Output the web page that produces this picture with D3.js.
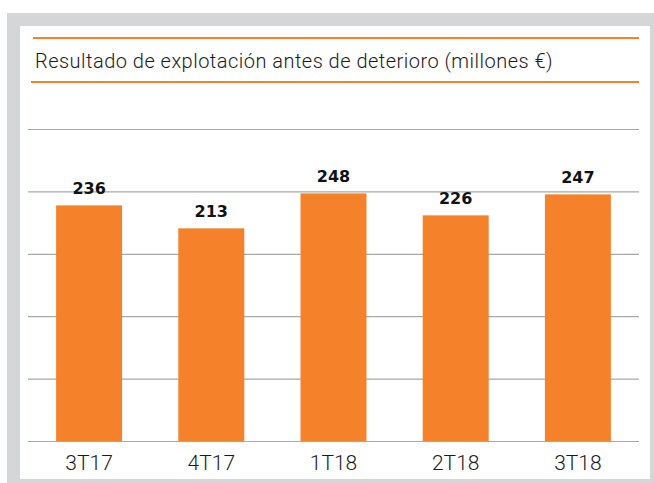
<!DOCTYPE html>
<html>
<head>
<meta charset="utf-8">
<script src="https://cdn.jsdelivr.net/npm/d3@7"></script>
<style>
  html, body { margin: 0; padding: 0; background: #fff; }
  svg { display: block; }
</style>
</head>
<body>
<div id="chart"></div>
<script>
// data
const quarters = ["3T17", "4T17", "1T18", "2T18", "3T18"];
const values = [236, 213, 248, 226, 247];
const gridValues = [0, 62.5, 125, 187.5, 250, 312.5];
const title = "Resultado de explotación antes de deterioro (millones €)";

const width = 654, height = 483;
const orange = "#f5812b";

const svg = d3.select("#chart").append("svg")
  .attr("width", width)
  .attr("height", height);

// gray frame + white panel
svg.append("rect").attr("x", 7).attr("y", 13).attr("width", width - 7).attr("height", height - 13)
  .attr("fill", "#d5d6d8");
svg.append("rect").attr("x", 20).attr("y", 26).attr("width", 630).attr("height", 453)
  .attr("fill", "#fff");

// title block with orange rules
svg.append("line").attr("x1", 33).attr("x2", 639).attr("y1", 38).attr("y2", 38)
  .attr("stroke", orange).attr("stroke-width", 2.2);
svg.append("line").attr("x1", 31).attr("x2", 639).attr("y1", 82).attr("y2", 82)
  .attr("stroke", orange).attr("stroke-width", 2.2);
const titleText = svg.append("text").attr("x", 35).attr("y", 68)
  .attr("font-family", "Roboto").attr("font-weight", 300).attr("font-size", 20)
  .attr("fill", "#1a1a1a")
  .text(title);
// stretch spacing so the title ends where the original does
const natural = titleText.node().getComputedTextLength();
titleText.attr("letter-spacing", Math.max(0, (518 - natural) / title.length));

const x = d3.scaleBand().domain(quarters).range([28, 639]).paddingInner(0.46).paddingOuter(0.23);
const y = d3.scaleLinear().domain([0, 312.5]).range([441, 129]);

// gridlines
const yAxis = d3.axisLeft(y).tickValues(gridValues).tickSize(-(639 - 28)).tickFormat("");
const gy = svg.append("g").attr("transform", "translate(28,0)").call(yAxis);
gy.select(".domain").remove();
gy.selectAll(".tick line").attr("stroke", "#a9a9a9").attr("stroke-width", 1.2);

// bars
svg.append("g").selectAll("rect").data(values).join("rect")
  .attr("x", (d, i) => x(quarters[i]))
  .attr("y", d => y(d))
  .attr("width", x.bandwidth())
  .attr("height", d => y(0) - y(d))
  .attr("fill", orange);

// value labels
svg.append("g").selectAll("text").data(values).join("text")
  .attr("x", (d, i) => x(quarters[i]) + x.bandwidth() / 2)
  .attr("y", d => y(d) - 11)
  .attr("text-anchor", "middle")
  .attr("font-family", "DejaVu Sans").attr("font-weight", "bold").attr("font-size", 16)
  .attr("fill", "#111")
  .text(d => d);

// x axis labels
const xAxis = d3.axisBottom(x).tickSize(0).tickPadding(0);
const gx = svg.append("g").attr("transform", "translate(0,441)").call(xAxis);
gx.select(".domain").remove();
gx.selectAll("text")
  .attr("dy", null).attr("y", 29)
  .attr("font-family", "Roboto").attr("font-weight", 300).attr("font-size", 21)
  .attr("fill", "#1a1a1a");
</script>
</body>
</html>
